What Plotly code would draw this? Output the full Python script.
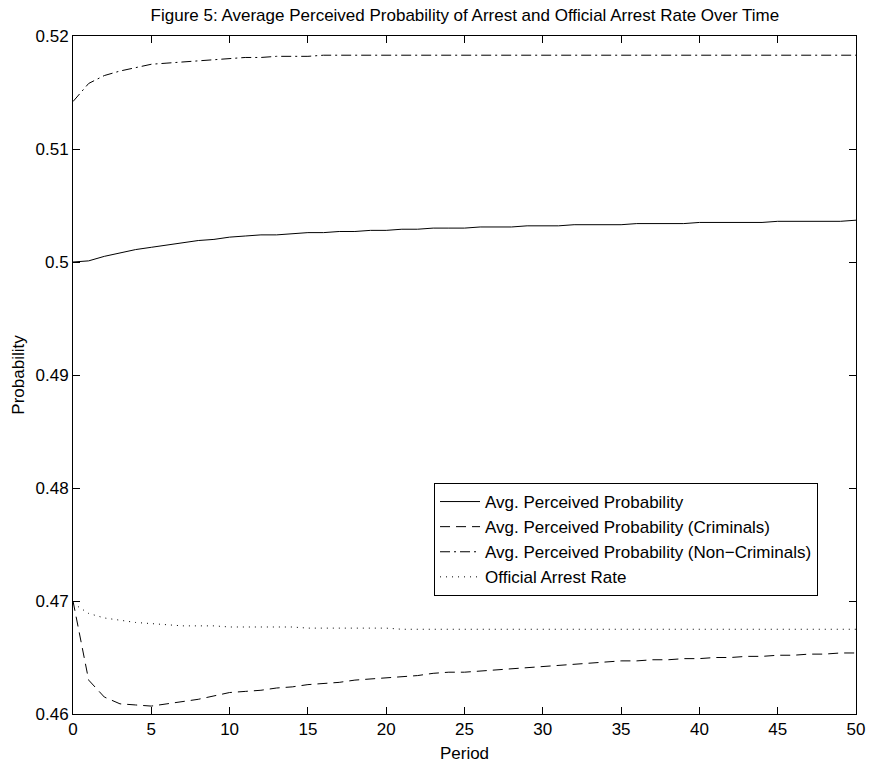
import plotly.graph_objects as go

# Period index
periods = list(range(0, 51))

# Average perceived probability of arrest, all agents
avg_perceived = [
    0.5000, 0.5001, 0.5005, 0.5008, 0.5011, 0.5013, 0.5015, 0.5017, 0.5019, 0.5020,
    0.5022, 0.5023, 0.5024, 0.5024, 0.5025, 0.5026, 0.5026, 0.5027, 0.5027, 0.5028,
    0.5028, 0.5029, 0.5029, 0.5030, 0.5030, 0.5030, 0.5031, 0.5031, 0.5031, 0.5032,
    0.5032, 0.5032, 0.5033, 0.5033, 0.5033, 0.5033, 0.5034, 0.5034, 0.5034, 0.5034,
    0.5035, 0.5035, 0.5035, 0.5035, 0.5035, 0.5036, 0.5036, 0.5036, 0.5036, 0.5036,
    0.5037,
]

# Average perceived probability among criminals
avg_criminals = [
    0.4700, 0.4630, 0.4615, 0.4609, 0.4608, 0.4607, 0.4609, 0.4611, 0.4613, 0.4616,
    0.4619, 0.4620, 0.4621, 0.4623, 0.4624, 0.4626, 0.4627, 0.4628, 0.4630, 0.4631,
    0.4632, 0.4633, 0.4634, 0.4636, 0.4637, 0.4637, 0.4638, 0.4639, 0.4640, 0.4641,
    0.4642, 0.4643, 0.4644, 0.4645, 0.4646, 0.4647, 0.4647, 0.4648, 0.4648, 0.4649,
    0.4649, 0.4650, 0.4650, 0.4651, 0.4651, 0.4652, 0.4652, 0.4653, 0.4653, 0.4654,
    0.4654,
]

# Average perceived probability among non-criminals
avg_non_criminals = [
    0.5142, 0.5158, 0.5165, 0.5169, 0.5172, 0.5175, 0.5176, 0.5177, 0.5178, 0.5179,
    0.5180, 0.5181, 0.5181, 0.5182, 0.5182, 0.5182, 0.5183, 0.5183, 0.5183, 0.5183,
    0.5183, 0.5183, 0.5183, 0.5183, 0.5183, 0.5183, 0.5183, 0.5183, 0.5183, 0.5183,
    0.5183, 0.5183, 0.5183, 0.5183, 0.5183, 0.5183, 0.5183, 0.5183, 0.5183, 0.5183,
    0.5183, 0.5183, 0.5183, 0.5183, 0.5183, 0.5183, 0.5183, 0.5183, 0.5183, 0.5183,
    0.5183,
]

# Official arrest rate
official_rate = [
    0.4698, 0.4689, 0.4685, 0.4683, 0.4681, 0.4680, 0.4679, 0.4678, 0.4678, 0.4678,
    0.4677, 0.4677, 0.4677, 0.4677, 0.4677, 0.4676, 0.4676, 0.4676, 0.4676, 0.4676,
    0.4676, 0.4675, 0.4675, 0.4675, 0.4675, 0.4675, 0.4675, 0.4675, 0.4675, 0.4675,
    0.4675, 0.4675, 0.4675, 0.4675, 0.4675, 0.4675, 0.4675, 0.4675, 0.4675, 0.4675,
    0.4675, 0.4675, 0.4675, 0.4675, 0.4675, 0.4675, 0.4675, 0.4675, 0.4675, 0.4675,
    0.4675,
]

x_ticks = [0, 5, 10, 15, 20, 25, 30, 35, 40, 45, 50]
y_ticks = [0.46, 0.47, 0.48, 0.49, 0.50, 0.51, 0.52]
y_tick_labels = ["0.46", "0.47", "0.48", "0.49", "0.5", "0.51", "0.52"]

FONT = "Liberation Sans, Arial, Helvetica, sans-serif"
FS = 17

series = [
    ("Avg. Perceived Probability", avg_perceived, "solid"),
    ("Avg. Perceived Probability (Criminals)", avg_criminals, "10px,6px"),
    ("Avg. Perceived Probability (Non\u2212Criminals)", avg_non_criminals, "10px,4px,2px,4px"),
    ("Official Arrest Rate", official_rate, "1px,5px"),
]

fig = go.Figure()
for name, values, dash in series:
    fig.add_trace(go.Scatter(
        x=periods, y=values, name=name, mode="lines",
        line=dict(color="black", width=1, dash=dash),
    ))

axis_common = dict(
    showline=True, linecolor="black", linewidth=1, mirror="ticks",
    ticks="inside", ticklen=7, tickcolor="black", tickwidth=1,
    showgrid=False, zeroline=False, automargin=False,
    tickfont=dict(family=FONT, size=FS, color="black"),
)

fig.update_layout(
    width=869, height=768,
    margin=dict(l=73, r=13, t=36, b=54),
    paper_bgcolor="white", plot_bgcolor="white",
    font=dict(family=FONT, size=FS, color="black"),
    title=dict(
        text="Figure 5: Average Perceived Probability of Arrest and Official Arrest Rate Over Time",
        x=0.535, xanchor="center", y=0.981, yanchor="middle",
        font=dict(family=FONT, size=FS, color="black"),
    ),
    xaxis=dict(
        range=[0, 50], tickvals=x_ticks,
        title=dict(text="Period", standoff=8, font=dict(family=FONT, size=FS)),
        **axis_common,
    ),
    yaxis=dict(
        range=[0.46, 0.52], tickvals=y_ticks, ticktext=y_tick_labels,
        title=dict(text="Probability", standoff=6, font=dict(family=FONT, size=FS)),
        **axis_common,
    ),
    legend=dict(
        x=0.9515, xanchor="right", y=0.3407, yanchor="top",
        bgcolor="white", bordercolor="black", borderwidth=1,
        font=dict(family=FONT, size=FS, color="black"),
        tracegroupgap=0, itemwidth=40,
    ),
    showlegend=True,
)

fig.write_html("out.html")
